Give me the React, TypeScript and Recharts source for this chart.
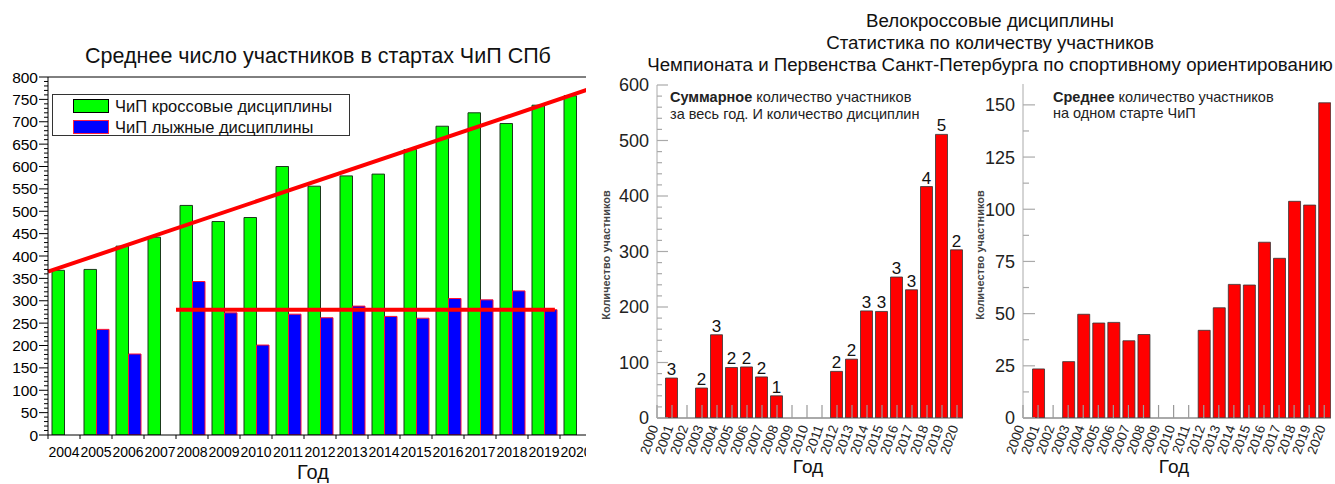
import React from 'react';
import { ComposedChart, BarChart, Bar, XAxis, YAxis, ReferenceLine, LabelList } from 'recharts';

// ---------- Chart 1: average participants, ЧиП СПб ----------
const spbYears = ['2004','2005','2006','2007','2008','2009','2010','2011','2012','2013','2014','2015','2016','2017','2018','2019','2020'];
const crossAvg = [368, 370, 422, 442, 513, 477, 486, 600, 556, 579, 583, 638, 690, 720, 696, 737, 758];
const skiAvg = [null, 236, 181, null, 343, 273, 201, 270, 262, 288, 265, 261, 305, 302, 322, 280, null];
const crossTrend = { fromX: 0, fromY: 365, toX: 17, toY: 775 };
const skiMean = { fromX: 4, toX: 15.84, y: 280 };
const y1Ticks = Array.from({ length: 81 }, (_, i) => i * 10);

// ---------- Chart 2 & 3: bike-cross ----------
const bikeYears = [2000,2001,2002,2003,2004,2005,2006,2007,2008,2009,2010,2011,2012,2013,2014,2015,2016,2017,2018,2019,2020];
const bikeTotal = [null, 72, null, 54, 150, 91, 92, 74, 40, null, null, null, 84, 106, 193, 192, 254, 231, 417, 511, 303];
const bikeDisc = [null, 3, null, 2, 3, 2, 2, 2, 1, null, null, null, 2, 2, 3, 3, 3, 3, 4, 5, 2];
const bikeAvg = [null, 23.5, null, 27, 49.7, 45.5, 45.8, 37, 40, null, null, null, 42, 52.8, 64, 63.7, 84.2, 76.5, 103.8, 102, 151];
const y2Ticks = Array.from({ length: 31 }, (_, i) => i * 20);
const y3Ticks = Array.from({ length: 13 }, (_, i) => i * 12.5);

const FONT = '"Liberation Sans", Arial, Helvetica, sans-serif';

const Y1Tick = (p: any) => {
  const { x, y, payload } = p;
  const v = payload.value;
  const major = v % 50 === 0;
  return (
    <g>
      <line x1={x - (major ? 9 : 4)} x2={x} y1={y} y2={y} stroke="#000" strokeWidth={1} />
      {major && (
        <text x={x - 10} y={y} dy="0.36em" textAnchor="end" fontSize={15.5} fill="#000" fontFamily={FONT}>{v}</text>
      )}
    </g>
  );
};

const X1Tick = (p: any) => {
  const { x, y, payload } = p;
  return (
    <g>
      <line x1={x - 16} x2={x - 16} y1={y} y2={y + 4} stroke="#000" strokeWidth={1} />
      <text x={x} y={y + 22} textAnchor="middle" fontSize={14} fill="#000" fontFamily={FONT}>{payload.value}</text>
    </g>
  );
};

const makeYTick = (majorStep: number, majorLen: number, minorLen: number) => (p: any) => {
  const { x, y, payload } = p;
  const v = payload.value;
  const major = Math.abs(v / majorStep - Math.round(v / majorStep)) < 1e-6;
  return (
    <g>
      <line x1={x} x2={x + (major ? majorLen : minorLen)} y1={y} y2={y} stroke="#aaa" strokeWidth={1.2} />
      {major && (
        <text x={x - 8} y={y} dy="0.36em" textAnchor="end" fontSize={18} fill="#222" fontFamily={FONT}>{v}</text>
      )}
    </g>
  );
};
const Y2Tick = makeYTick(100, 11, 5);
const Y3Tick = makeYTick(25, 12, 6);

const XRotTick = (p: any) => {
  const { x, y, payload } = p;
  return (
    <g>
      <line x1={x} x2={x} y1={y} y2={y - 13} stroke="#999" strokeWidth={1.2} />
      <text x={x} y={y} transform={`rotate(-70 ${x} ${y})`} textAnchor="end" dx={-8} dy={4.7} fontSize={13.5} fill="#222" fontFamily={FONT}>{payload.value}</text>
    </g>
  );
};

const DiscLabel = (p: any) => {
  const { x, y, width, value } = p;
  if (value === null || value === undefined) return null;
  return (
    <text x={x + width / 2} y={y - 3} textAnchor="middle" fontSize={17} fill="#111" fontFamily={FONT}>{value}</text>
  );
};

const abs = (left: number, top: number, extra: React.CSSProperties = {}): React.CSSProperties => ({
  position: 'absolute', left, top, whiteSpace: 'nowrap', fontFamily: FONT, color: '#111', ...extra,
});

export default function App() {
  // pos = band centre in band units, used only by the helper numeric axis for the red lines
  const spbData = spbYears.map((year, i) => ({ year, pos: i + 0.5, cross: crossAvg[i], ski: skiAvg[i] }));
  const totalData = bikeYears.map((year, i) => ({ year, total: bikeTotal[i], disc: bikeDisc[i] }));
  const avgData = bikeYears.map((year, i) => ({ year, avg: bikeAvg[i] }));

  return (
    <div style={{ position: 'absolute', left: 0, top: 0, width: 1335, height: 484, background: '#fff', overflow: 'hidden', fontFamily: FONT }}>
      {/* Chart 1 */}
      <div style={{ position: 'absolute', left: 0, top: 0, width: 586, height: 484, overflow: 'hidden' }}>
        <ComposedChart width={600} height={484} data={spbData} margin={{ top: 77, right: 8, left: 0, bottom: 19 }} barGap={0}>
          <XAxis dataKey="year" interval={0} tick={X1Tick} tickLine={false} axisLine={{ stroke: '#000' }} height={30} tickSize={0} tickMargin={0} />
          <XAxis xAxisId="n" dataKey="pos" type="number" domain={[0, 17]} hide allowDataOverflow />
          <YAxis width={48} domain={[0, 800]} ticks={y1Ticks} interval={0} tick={Y1Tick} tickLine={false} axisLine={{ stroke: '#000' }} tickSize={0} tickMargin={0} allowDataOverflow />
          <Bar dataKey="cross" fill="#00ff00" stroke="#1a3a1a" strokeWidth={1} barSize={12.5} isAnimationActive={false} />
          <Bar dataKey="ski" fill="#0000ff" stroke="#ff1030" strokeWidth={1} barSize={12.5} isAnimationActive={false} />
          <ReferenceLine y={800} stroke="#000" strokeWidth={1} />
          <ReferenceLine xAxisId="n" segment={[{ x: crossTrend.fromX, y: crossTrend.fromY }, { x: crossTrend.toX, y: crossTrend.toY }]} stroke="#ff0000" strokeWidth={4} ifOverflow="visible" />
          <ReferenceLine xAxisId="n" segment={[{ x: skiMean.fromX, y: skiMean.y }, { x: skiMean.toX, y: skiMean.y }]} stroke="#ff0000" strokeWidth={4} ifOverflow="visible" />
        </ComposedChart>
        <div style={{ position: 'absolute', left: 52, top: 94, width: 298, height: 42, border: '1px solid #333', boxSizing: 'border-box', background: '#fff' }}>
          <div style={{ position: 'absolute', left: 20, top: 4, width: 36, height: 14, background: '#00ff00', border: '1px solid #000', boxSizing: 'border-box' }} />
          <div style={{ position: 'absolute', left: 20, top: 25, width: 36, height: 14, background: '#0000ff', border: '1px solid #ff2040', boxSizing: 'border-box' }} />
          <div style={abs(62, 1, { fontSize: 16.5, lineHeight: '20px' })}>ЧиП кроссовые дисциплины</div>
          <div style={abs(62, 22, { fontSize: 16.5, lineHeight: '20px' })}>ЧиП лыжные дисциплины</div>
        </div>
      </div>
      <div style={abs(18, 44, { width: 600, textAlign: 'center', fontSize: 21.5, lineHeight: '24px' })}>Среднее число участников в стартах ЧиП СПб</div>
      <div style={abs(263, 460, { width: 100, textAlign: 'center', fontSize: 20, lineHeight: '24px' })}>Год</div>

      {/* Common title for charts 2-3 */}
      <div style={abs(640, 10, { width: 700, textAlign: 'center', fontSize: 18.7, lineHeight: '22px' })}>
        Велокроссовые дисциплины<br />Статистика по количеству участников<br />Чемпионата и Первенства Санкт-Петербурга по спортивному ориентированию
      </div>

      {/* Chart 2 */}
      <div style={{ position: 'absolute', left: 595, top: 0 }}>
        <BarChart width={373} height={484} data={totalData} margin={{ top: 85, right: 5, left: 0, bottom: 16 }}>
          <XAxis dataKey="year" type="number" domain={[2000, 2020.4]} ticks={bikeYears} interval={0} allowDataOverflow tick={XRotTick} tickLine={false} axisLine={{ stroke: '#555' }} height={50} tickSize={0} tickMargin={0} />
          <YAxis width={62} domain={[0, 600]} ticks={y2Ticks} interval={0} tick={Y2Tick} tickLine={false} axisLine={{ stroke: '#aaa' }} tickSize={0} tickMargin={0} allowDataOverflow />
          <Bar dataKey="total" fill="#ff0000" stroke="#333" strokeWidth={0.8} barSize={12} isAnimationActive={false}>
            <LabelList dataKey="disc" content={DiscLabel} />
          </Bar>
        </BarChart>
      </div>
      <div style={abs(606, 255, { fontSize: 11, fontWeight: 'bold', color: '#444', transform: 'translate(-50%, -50%) rotate(-90deg)' })}>Количество участников</div>
      <div style={abs(670, 89, { fontSize: 14.5, lineHeight: '16.5px', color: '#222' })}>
        <b>Суммарное</b> количество участников<br />за весь год. И количество дисциплин
      </div>
      <div style={abs(808, 456, { fontSize: 19, lineHeight: '22px', transform: 'translateX(-50%)' })}>Год</div>

      {/* Chart 3 */}
      <div style={{ position: 'absolute', left: 960, top: 0 }}>
        <BarChart width={375} height={484} data={avgData} margin={{ top: 84, right: 4, left: 0, bottom: 16 }}>
          <XAxis dataKey="year" type="number" domain={[2000, 2020.45]} ticks={bikeYears} interval={0} allowDataOverflow tick={XRotTick} tickLine={false} axisLine={{ stroke: '#555' }} height={50} tickSize={0} tickMargin={0} />
          <YAxis width={63} domain={[0, 160]} ticks={y3Ticks} interval={0} tick={Y3Tick} tickLine={false} axisLine={{ stroke: '#aaa' }} tickSize={0} tickMargin={0} allowDataOverflow />
          <Bar dataKey="avg" fill="#ff0000" stroke="#333" strokeWidth={0.8} barSize={12} isAnimationActive={false} />
        </BarChart>
      </div>
      <div style={abs(980, 255, { fontSize: 11, fontWeight: 'bold', color: '#444', transform: 'translate(-50%, -50%) rotate(-90deg)' })}>Количество участников</div>
      <div style={abs(1053, 89, { fontSize: 14.5, lineHeight: '16px', color: '#222' })}>
        <b>Среднее</b> количество участников<br />на одном старте ЧиП
      </div>
      <div style={abs(1174, 456, { fontSize: 19, lineHeight: '22px', transform: 'translateX(-50%)' })}>Год</div>
    </div>
  );
}
